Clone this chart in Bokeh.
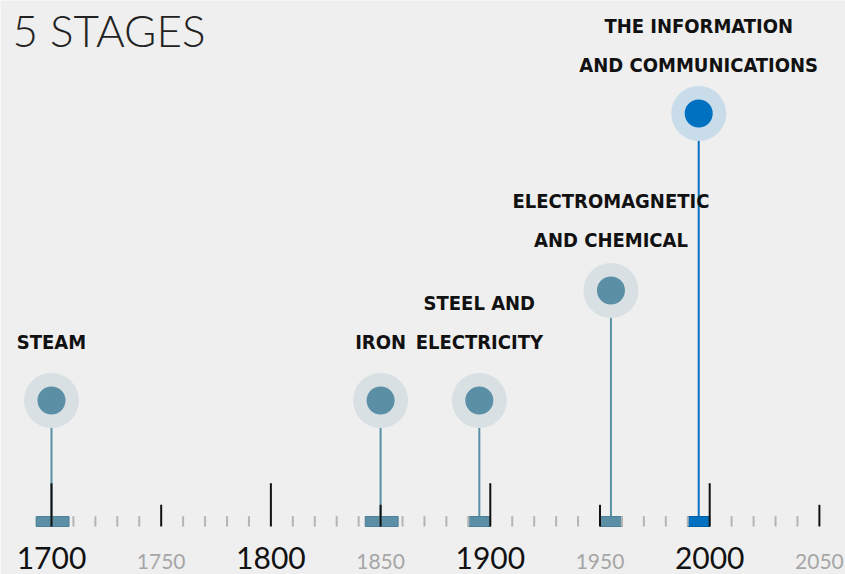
from bokeh.plotting import figure
from bokeh.models import ColumnDataSource, Label
from bokeh.core.properties import value
from bokeh.embed import file_html
from bokeh.resources import INLINE

# ---------------- data ----------------
stage_names = ["STEAM", "IRON", "STEEL AND\nELECTRICITY",
               "ELECTROMAGNETIC\nAND CHEMICAL", "THE INFORMATION\nAND COMMUNICATIONS"]
stage_year = [1700, 1850, 1895, 1955, 1995]
stage_level = [121, 121, 121, 231, 408]
period_start = [1693, 1843, 1890, 1950, 1990]
period_end = [1708, 1858, 1900, 1960, 2000]

century_ticks = [1700, 1800, 1900, 2000]
century_labels = ["1700", "1800", "1900", "2000"]
half_ticks = [1750, 1850, 1950, 2050]
half_labels = ["1750", "1850", "1950", "2050"]
minor_ticks = [y for y in range(1710, 2050, 10) if y % 50 != 0]

# ---------------- styles ----------------
BG = "#efefef"
dot_col = ["#5b8fa6", "#5b8fa6", "#5b8fa6", "#5b8fa6", "#0070c0"]
edge_col = ["#4d7f96", "#4d7f96", "#4d7f96", "#4d7f96", "#005ea6"]
halo_col = ["#d8e0e3", "#d8e0e3", "#d8e0e3", "#d8e0e3", "#c8dcea"]
label_gap = [50, 50, 50, 42, 40]
LINE_STEP = 39
NARROW = value("'DejaVu Sans Condensed', 'Roboto', sans-serif")
TITLE_FONT = "'Lato Light', 'DejaVu Sans Light', 'DejaVu Sans Condensed', sans-serif"
BASE_SHIFT = 0.42  # em, compensates baseline placement

p = figure(width=845, height=574, x_range=(1676.76, 2061.9), y_range=(-53, 521),
           output_backend="svg", toolbar_location=None, min_border=0,
           background_fill_color=BG, border_fill_color=BG, outline_line_color=None)
p.xaxis.visible = False
p.yaxis.visible = False
p.grid.visible = False

src = ColumnDataSource(dict(year=stage_year, level=stage_level, start=period_start,
                            end=period_end, dot=dot_col, edge=edge_col, halo=halo_col,
                            base=[5] * len(stage_year)))

# stems
p.segment(x0="year", y0="base", x1="year", y1="level", source=src,
          line_color="dot", line_width=2)
# period bars
p.quad(left="start", right="end", bottom=-5, top=5, source=src,
       fill_color="dot", line_color="edge", line_width=1)

# ticks
p.segment(x0=minor_ticks, y0=[-5] * len(minor_ticks), x1=minor_ticks,
          y1=[5.3] * len(minor_ticks), line_color="#b4b4b4", line_width=2)
p.segment(x0=half_ticks, y0=[-5] * 4, x1=half_ticks, y1=[16.7] * 4,
          line_color="#111111", line_width=2)
p.segment(x0=century_ticks, y0=[-5] * 4, x1=century_ticks, y1=[38.3] * 4,
          line_color="#111111", line_width=2)

# circles
p.scatter(x="year", y="level", source=src, size=55, fill_color="halo", line_color=None)
p.scatter(x="year", y="level", source=src, size=28, fill_color="dot", line_color=None)

# tick labels
p.text(x=century_ticks, y=[-49] * 4, text=century_labels, text_align="center",
       text_baseline="alphabetic", text_font=value("Lato"), text_font_size="30px",
       text_color="#111111", y_offset=-BASE_SHIFT * 30)
p.text(x=half_ticks, y=[-49] * 4, text=half_labels, text_align="center",
       text_baseline="alphabetic", text_font=value("Lato"), text_font_size="21px",
       text_color="#a6a6a6", y_offset=-BASE_SHIFT * 21)

# stage labels
lx, ly, lt = [], [], []
for name, yr, lev, gap in zip(stage_names, stage_year, stage_level, label_gap):
    for i, line in enumerate(reversed(name.split("\n"))):
        lx.append(yr)
        ly.append(lev + gap + i * LINE_STEP)
        lt.append(line)
p.text(x=lx, y=ly, text=lt, text_align="center", text_baseline="alphabetic",
       text_font=NARROW, text_font_style="bold", text_font_size="20px",
       text_color="#111111", y_offset=-BASE_SHIFT * 20)

# title
p.add_layout(Label(x=12, y=526 + BASE_SHIFT * 44, x_units="screen", y_units="screen",
                   text="5 STAGES", text_font=TITLE_FONT, text_font_size="44px",
                   text_color="#222222", text_baseline="alphabetic"))

open("out.html", "w").write(file_html(p, INLINE))
